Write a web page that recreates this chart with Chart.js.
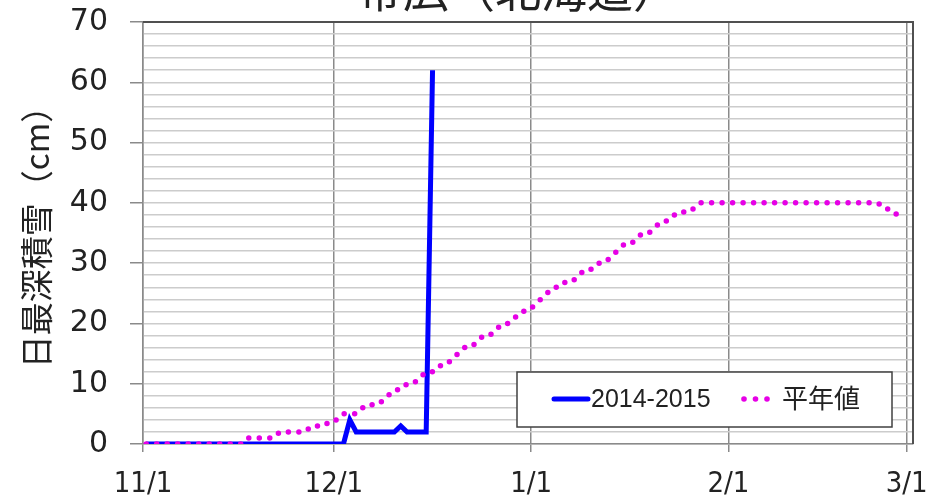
<!DOCTYPE html>
<html><head><meta charset="utf-8">
<script src="https://cdn.jsdelivr.net/npm/chart.js@4/dist/chart.umd.min.js"></script>
<style>html,body{margin:0;padding:0;background:#fff}#wrap{width:943px;height:499px;position:relative}</style>
</head><body><div id="wrap"><canvas id="c" width="943" height="499"></canvas></div>
<script>
const chartTitle = '帯広（北海道）';
const yAxisTitle = '日最深積雪（cm）';
const seriesNames = ['2014-2015', '平年値'];
const tickDays = [0, 30, 61, 92, 120];
const tickLabels = ['11/1', '12/1', '1/1', '2/1', '3/1'];
// daily values, index 0 = 11/1
const depth2014 = [0,0,0,0,0,0,0,0,0,0, 0,0,0,0,0,0,0,0,0,0, 0,0,0,0,0,0,0,0,0,0, 0,0,4,2,2,2,2,2,2,2, 3,2,2,2,2,62];
const normalDepth = [0,0,0,0,0,0,0,0,0,0, 0,0,0,0,0,0,1,1,1,1, 1,2,2,2,2,2,3,3,3,4, 4,5,5,5,6,6,7,7,8,9,
  9,10,10,11,12,12,13,13,14,15, 16,16,17,18,18,19,20,20,21,22, 22,23,24,25,26,26,27,27,28,29,
  29,30,30,31,32,33,33,34,35,35, 36,37,37,38,38,39,39,40,40,40, 40,40,40,40,40,40,40,40,40,40,
  40,40,40,40,40,40,40,40,40,40, 40,40,40,40,40,40,39,39,38,38];

const toPoints = arr => arr.map((v, i) => ({x: i + 0.5, y: v}));

const textPlugin = {
  id: 'texts',
  afterDraw(chart) {
    const ctx = chart.ctx;
    ctx.save();
    ctx.fillStyle = '#222';
    ctx.font = '46px "Noto Sans CJK JP"';
    ctx.textAlign = 'center';
    ctx.textBaseline = 'alphabetic';
    ctx.fillText(chartTitle, 518, 7);
    ctx.translate(36, 229);
    ctx.rotate(-Math.PI / 2);
    ctx.textBaseline = 'middle';
    ctx.font = '33px "Noto Sans CJK JP"';
    ctx.fillText(yAxisTitle, 0, 0);
    ctx.restore();
  }
};

const framePlugin = {
  id: 'frame',
  afterDatasetsDraw(chart) {
    const a = chart.chartArea, ctx = chart.ctx;
    ctx.save();
    ctx.strokeStyle = '#505050';
    ctx.lineWidth = 2;
    ctx.beginPath();
    ctx.moveTo(a.left, a.top);
    ctx.lineTo(a.right, a.top);
    ctx.lineTo(a.right, a.bottom);
    ctx.stroke();
    ctx.restore();
  }
};

const legendPlugin = {
  id: 'boxLegend',
  afterDraw(chart) {
    const ctx = chart.ctx;
    const ds = chart.data.datasets;
    ctx.save();
    ctx.fillStyle = '#fff';
    ctx.fillRect(517, 372, 375, 55);
    ctx.strokeStyle = '#404040';
    ctx.lineWidth = 1.5;
    ctx.strokeRect(517, 372, 375, 55);
    ctx.strokeStyle = ds[0].borderColor;
    ctx.lineWidth = 5;
    ctx.lineCap = 'round';
    ctx.beginPath(); ctx.moveTo(554, 399); ctx.lineTo(588, 399); ctx.stroke();
    ctx.fillStyle = '#222';
    ctx.textBaseline = 'middle';
    ctx.font = '25px "Liberation Sans Narrow", "Liberation Sans", Arial, sans-serif';
    ctx.fillText(ds[0].label, 591, 400);
    ctx.fillStyle = ds[1].borderColor;
    [744, 755.5, 767].forEach(x => { ctx.beginPath(); ctx.arc(x, 399, 2.8, 0, Math.PI * 2); ctx.fill(); });
    ctx.fillStyle = '#222';
    ctx.font = '26px "Noto Sans CJK JP"';
    ctx.fillText(ds[1].label, 782, 398);
    ctx.restore();
  }
};

new Chart(document.getElementById('c'), {
  type: 'line',
  data: {
    datasets: [
      { label: seriesNames[0], data: toPoints(depth2014), borderColor: '#0000ff', borderWidth: 5,
        pointRadius: 0, tension: 0, borderJoinStyle: 'miter', order: 1 },
      { label: seriesNames[1], data: toPoints(normalDepth), borderColor: '#e600e6', borderWidth: 5.5,
        borderDash: [0, 10.5], borderCapStyle: 'round', pointRadius: 0, tension: 0, order: 0 }
    ]
  },
  options: {
    responsive: false,
    animation: false,
    layout: { padding: { top: 22, right: 30, left: 0, bottom: 0 } },
    plugins: { legend: { display: false }, title: { display: false }, tooltip: { enabled: false } },
    scales: {
      x: {
        type: 'linear', min: 0, max: 121,
        afterBuildTicks: s => { s.ticks = tickDays.map(v => ({ value: v })); },
        afterFit: s => { s.height = 55; s.paddingLeft = 0; s.paddingRight = 0; },
        ticks: {
          autoSkip: false, maxRotation: 0, padding: 15, color: '#222',
          font: { family: '"Liberation Sans Narrow", "DejaVu Sans Condensed", sans-serif', size: 29 },
          callback: v => tickLabels[tickDays.indexOf(v)]
        },
        grid: { color: '#8a8a8a', lineWidth: 1.5, tickLength: 8, tickColor: '#8a8a8a' },
        border: { color: '#8a8a8a', width: 1.5 }
      },
      y: {
        min: 0, max: 70,
        afterFit: s => { s.width = 143; s.paddingTop = 0; s.paddingBottom = 0; },
        ticks: {
          stepSize: 2, autoSkip: false, padding: 22, color: '#222',
          font: { family: '"DejaVu Sans", sans-serif', size: 30 },
          callback: v => (v % 10 === 0 ? String(v) : '')
        },
        grid: {
          color: '#cccccc', lineWidth: 1.5, tickLength: 13,
          tickColor: c => (c.tick && c.tick.value % 10 === 0 ? '#8a8a8a' : 'rgba(0,0,0,0)')
        },
        border: { color: '#8a8a8a', width: 1.5 },
        title: { display: false }
      }
    }
  },
  plugins: [textPlugin, framePlugin, legendPlugin]
});
</script>
</body></html>
